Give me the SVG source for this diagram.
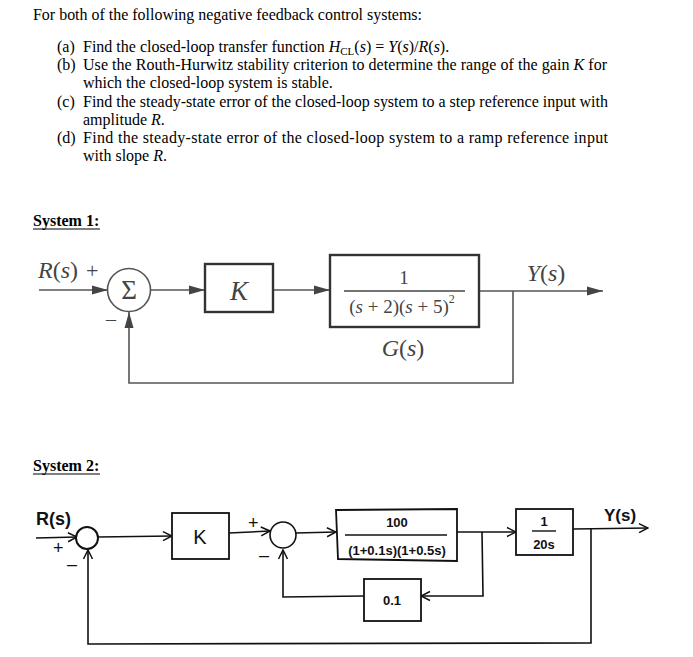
<svg xmlns="http://www.w3.org/2000/svg" width="693" height="657" viewBox="0 0 693 657">
<defs>
<style>
.t{font-family:"Liberation Serif","Times New Roman",serif;font-size:16px;fill:#000}
.s1{font-family:"Liberation Serif","Times New Roman",serif;fill:#444}
.s2{font-family:"Liberation Sans",Arial,sans-serif;fill:#111}
.b{font-weight:bold}
.ln1{stroke:#555;stroke-width:1.6;fill:none}
.box1{stroke:#333;stroke-width:2.4;fill:#fff}
.ln2{stroke:#111;stroke-width:1.6;fill:none}
.box2{stroke:#111;stroke-width:1.8;fill:#fff}
</style>
<marker id="tri" viewBox="0 0 16 10" refX="16" refY="5" markerWidth="16" markerHeight="10" markerUnits="userSpaceOnUse" orient="auto"><path d="M0,0.5 L16,5 L0,9.5 z" fill="#444"/></marker>
<marker id="chev" viewBox="0 0 12 12" refX="11" refY="6" markerWidth="12" markerHeight="12" markerUnits="userSpaceOnUse" orient="auto"><path d="M2,1.5 L11,6 L2,10.5" fill="none" stroke="#111" stroke-width="1.5"/></marker>
</defs>
<rect width="693" height="657" fill="#fff"/>

<g id="question">
<text class="t" x="33" y="20" textLength="389" lengthAdjust="spacingAndGlyphs">For both of the following negative feedback control systems:</text>
<text class="t" x="57" y="52">(a)</text>
<text class="t" x="83" y="52">Find the closed-loop transfer function <tspan font-style="italic">H</tspan><tspan font-size="11" dy="3">CL</tspan><tspan dy="-3">(</tspan><tspan font-style="italic">s</tspan>) = <tspan font-style="italic">Y</tspan>(<tspan font-style="italic">s</tspan>)/<tspan font-style="italic">R</tspan>(<tspan font-style="italic">s</tspan>).</text>
<text class="t" x="57" y="70">(b)</text>
<text class="t" x="83" y="70" textLength="524" lengthAdjust="spacing">Use the Routh-Hurwitz stability criterion to determine the range of the gain <tspan font-style="italic">K</tspan> for</text>
<text class="t" x="83" y="88">which the closed-loop system is stable.</text>
<text class="t" x="57" y="107">(c)</text>
<text class="t" x="83" y="107" textLength="525" lengthAdjust="spacing">Find the steady-state error of the closed-loop system to a step reference input with</text>
<text class="t" x="83" y="125">amplitude <tspan font-style="italic">R</tspan>.</text>
<text class="t" x="57" y="143">(d)</text>
<text class="t" x="83" y="143" textLength="525" lengthAdjust="spacing">Find the steady-state error of the closed-loop system to a ramp reference input</text>
<text class="t" x="83" y="161">with slope <tspan font-style="italic">R</tspan>.</text>
</g>

<g id="title1">
<text class="t b" x="33" y="226" font-weight="bold">System 1:</text>
<line x1="33" y1="229" x2="100" y2="229" stroke="#000" stroke-width="1"/>
</g>

<g id="connectors1">
<line class="ln1" x1="39" y1="290" x2="108" y2="290" marker-end="url(#tri)"/>
<line class="ln1" x1="151" y1="290" x2="205" y2="290" marker-end="url(#tri)"/>
<line class="ln1" x1="273" y1="290" x2="330" y2="290" marker-end="url(#tri)"/>
<line class="ln1" x1="479" y1="291" x2="603" y2="291" marker-end="url(#tri)"/>
<polyline class="ln1" points="513,291 513,383 129,383 129,312" marker-end="url(#tri)"/>
</g>

<g id="labels1">
<text class="s1" x="38" y="278" font-size="24"><tspan font-style="italic">R</tspan>(<tspan font-style="italic">s</tspan>)</text>
<text class="s1" x="86" y="278" font-size="22">+</text>
<text class="s1" x="106" y="326" font-size="20">–</text>
<text class="s1" x="546" y="281" font-size="24" text-anchor="middle"><tspan font-style="italic">Y</tspan>(<tspan font-style="italic">s</tspan>)</text>
</g>

<g id="sum1">
<circle cx="129" cy="290" r="21.5" fill="#fff" stroke="#555" stroke-width="1.6"/>
<text class="s1" x="129" y="299" font-size="27" text-anchor="middle" fill="#222">Σ</text>
</g>

<g id="K1">
<rect class="box1" x="205" y="264" width="68" height="48"/>
<text class="s1" x="239" y="300" font-size="27" font-style="italic" text-anchor="middle" fill="#222">K</text>
</g>

<g id="G1">
<rect class="box1" x="330" y="255" width="149" height="72"/>
<text class="s1" x="404" y="284" font-size="19" text-anchor="middle" fill="#222">1</text>
<line x1="344" y1="291" x2="465" y2="291" stroke="#444" stroke-width="1.3"/>
<text class="s1" x="402" y="313" font-size="19" text-anchor="middle" fill="#222">(<tspan font-style="italic">s</tspan> + 2)(<tspan font-style="italic">s</tspan> + 5)<tspan font-size="12" dy="-10">2</tspan></text>
<text class="s1" x="403" y="356" font-size="24" text-anchor="middle" fill="#222"><tspan font-style="italic">G</tspan>(<tspan font-style="italic">s</tspan>)</text>
</g>

<g id="title2">
<text class="t" x="33" y="471" font-weight="bold">System 2:</text>
<line x1="33" y1="474" x2="100" y2="474" stroke="#000" stroke-width="1"/>
</g>

<g id="connectors2">
<line class="ln2" x1="36" y1="538" x2="77" y2="537" marker-end="url(#chev)"/>
<line class="ln2" x1="98" y1="537" x2="172" y2="536" marker-end="url(#chev)"/>
<line class="ln2" x1="229" y1="533" x2="270" y2="531" marker-end="url(#chev)"/>
<line class="ln2" x1="296" y1="533" x2="336" y2="532" marker-end="url(#chev)"/>
<line class="ln2" x1="457" y1="532" x2="516" y2="532" marker-end="url(#chev)"/>
<polyline class="ln2" points="482,532 483,596 421,596" marker-end="url(#chev)"/>
<polyline class="ln2" points="364,596 283,597 283,550" marker-end="url(#chev)"/>
<line class="ln2" x1="573" y1="529" x2="648" y2="528" marker-end="url(#chev)"/>
<polyline class="ln2" points="591,529 591,643 88,644 88,550" marker-end="url(#chev)"/>
</g>

<g id="labels2">
<text class="s2 b" x="36" y="525" font-size="18">R(s)</text>
<text class="s2" x="53" y="554" font-size="18">+</text>
<text class="s2" x="67" y="570" font-size="18">–</text>
<text class="s2" x="248" y="529" font-size="18">+</text>
<text class="s2" x="259" y="561" font-size="18">–</text>
<text class="s2 b" x="620" y="521" font-size="17" text-anchor="middle">Y(s)</text>
</g>

<g id="sum2a">
<circle cx="87" cy="538" r="11" fill="#fff" stroke="#111" stroke-width="2"/>
</g>

<g id="K2">
<rect class="box2" x="172" y="513" width="57" height="46"/>
<text class="s2" x="200" y="544" font-size="20" text-anchor="middle">K</text>
</g>

<g id="sum2b">
<circle cx="283" cy="535" r="13" fill="#fff" stroke="#111" stroke-width="1.6"/>
</g>

<g id="G2">
<path class="box2" d="M336,510 L457,509 L457,561 L338,559 Z"/>
<text class="s2 b" x="397" y="527" font-size="13" text-anchor="middle">100</text>
<line x1="345" y1="535" x2="447" y2="535" stroke="#111" stroke-width="1.4"/>
<text class="s2 b" x="397" y="555" font-size="13" text-anchor="middle">(1+0.1s)(1+0.5s)</text>
</g>

<g id="H2">
<rect class="box2" x="364" y="579" width="57" height="42"/>
<text class="s2 b" x="392" y="605" font-size="13" text-anchor="middle">0.1</text>
</g>

<g id="P2">
<rect class="box2" x="516" y="509" width="57" height="46"/>
<text class="s2 b" x="544" y="526" font-size="13" text-anchor="middle">1</text>
<line x1="532" y1="531" x2="556" y2="531" stroke="#111" stroke-width="1.4"/>
<text class="s2 b" x="544" y="549" font-size="13" text-anchor="middle">20s</text>
</g>
</svg>
